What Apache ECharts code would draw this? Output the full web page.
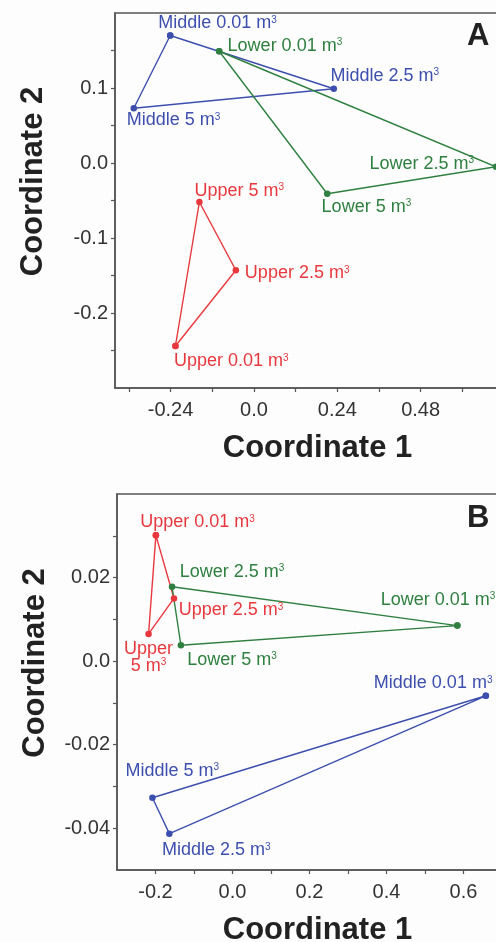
<!DOCTYPE html>
<html>
<head>
<meta charset="utf-8">
<script src="https://cdn.jsdelivr.net/npm/echarts@6/dist/echarts.min.js"></script>
<style>
html,body{margin:0;padding:0;background:#fdfdfd;}
#chart{width:496px;height:942px;}
</style>
</head>
<body>
<div id="chart"></div>
<script>
// ---------- data ----------
const volumes = ['0.01', '2.5', '5'];
const sites = ['Upper', 'Middle', 'Lower'];

// Panel A (order of points: 0.01, 2.5, 5 m3)
const panelA_upper  = [[-0.226, -0.244], [-0.052, -0.143], [-0.157, -0.052]];
const panelA_middle = [[-0.241, 0.170], [0.230, 0.099], [-0.346, 0.073]];
const panelA_lower  = [[-0.100, 0.149], [0.697, -0.005], [0.211, -0.041]];

// Panel B
const panelB_upper  = [[-0.199, 0.0301], [-0.152, 0.0150], [-0.218, 0.0065]];
const panelB_middle = [[0.658, -0.0083], [-0.164, -0.0413], [-0.208, -0.0327]];
const panelB_lower  = [[0.584, 0.0085], [-0.157, 0.0178], [-0.134, 0.0038]];

// Axis ticks / labels
const xTicksA  = [-0.36, -0.24, -0.12, 0, 0.12, 0.24, 0.36, 0.48, 0.6];
const xLabelsA = [-0.24, 0, 0.24, 0.48];
const xLabelTextA = ['-0.24', '0.0', '0.24', '0.48'];
const yTicksA  = [-0.25, -0.2, -0.15, -0.1, -0.05, 0, 0.05, 0.1, 0.15];
const yLabelsA = [-0.2, -0.1, 0, 0.1];
const yLabelTextA = ['-0.2', '-0.1', '0.0', '0.1'];

const xTicksB  = [-0.2, -0.1, 0, 0.1, 0.2, 0.3, 0.4, 0.5, 0.6];
const xLabelsB = [-0.2, 0, 0.2, 0.4, 0.6];
const xLabelTextB = ['-0.2', '0.0', '0.2', '0.4', '0.6'];
const yTicksB  = [-0.04, -0.03, -0.02, -0.01, 0, 0.01, 0.02, 0.03];
const yLabelsB = [-0.04, -0.02, 0, 0.02];
const yLabelTextB = ['-0.04', '-0.02', '0.0', '0.02'];

// ---------- styling ----------
const FONT = '"Liberation Sans", Arial, sans-serif';
const colors = { Upper: '#e8383d', Middle: '#3d4fae', Lower: '#2f8040' };
const axisColor = '#555';
// label placement per point: [dx, dy, align, twoLine]
const labelPos = {
  A: {
    Upper:  [[-1.4, 15.3], [9, 3], [-5, -11.3]],
    Middle: [[-12, -12], [-3.3, -13], [-7, 12]],
    Lower:  [[8.4, -5.4], [-22, -2.7, 'right'], [-5.6, 13.4]]
  },
  B: {
    Upper:  [[-15.6, -13], [4.7, 12], [0, 23.5, 'center', true]],
    Middle: [[-112, -12.4], [-7.4, 16.7], [-27, -26.6]],
    Lower:  [[-76.6, -25.4], [7.7, -15], [6.4, 15]]
  }
};

function lookupFormatter(vals, texts) {
  return function (v) {
    for (let i = 0; i < vals.length; i++) if (Math.abs(vals[i] - v) < 1e-9) return texts[i];
    return '';
  };
}

function makeSeries(panel, site, pts, axisIdx) {
  const color = colors[site];
  const pos = labelPos[panel][site];
  const data = pts.map((p, i) => {
    const lp = pos[i];
    const txt = lp[3]
      ? `{t|${site}}\n{t|${volumes[i]} m}{s|3}`
      : `{t|${site} ${volumes[i]} m}{s|3}`;
    return {
      value: p,
      label: {
        show: true, position: 'inside',
        align: lp[2] || 'left', verticalAlign: 'middle',
        offset: [lp[0], lp[1]],
        formatter: txt
      }
    };
  });
  data.push({ value: pts[0], label: { show: false } });
  return {
    type: 'line', xAxisIndex: axisIdx, yAxisIndex: axisIdx,
    data: data, symbol: 'circle', symbolSize: 6.5,
    lineStyle: { color: color, width: 1.4 },
    itemStyle: { color: color },
    label: {
      color: color,
      rich: {
        t: { fontSize: 18, fontFamily: FONT, color: color, lineHeight: 17 },
        s: { fontSize: 10, fontFamily: FONT, color: color, verticalAlign: 'top', lineHeight: 10 }
      }
    },
    emphasis: { disabled: true },
    clip: false
  };
}

function xAxisCfg(gridIndex, min, max, ticks, labels, texts) {
  return {
    type: 'value', gridIndex: gridIndex, min: min, max: max,
    splitLine: { show: false },
    axisLine: { show: true, onZero: false, lineStyle: { color: axisColor, width: 1.5 } },
    axisTick: { show: true, length: 4, inside: false, customValues: ticks, lineStyle: { color: axisColor, width: 1.2 } },
    axisLabel: { customValues: labels, formatter: lookupFormatter(labels, texts), fontSize: 20, fontFamily: FONT, color: '#333', margin: 12 },
    name: 'Coordinate 1', nameLocation: 'middle', nameGap: 45,
    nameTextStyle: { fontSize: 31, fontWeight: 'bold', fontFamily: FONT, color: '#222', padding: [0, 0, 0, 16] }
  };
}
function yAxisCfg(gridIndex, min, max, ticks, labels, texts) {
  return {
    type: 'value', gridIndex: gridIndex, min: min, max: max,
    splitLine: { show: false },
    axisLine: { show: true, onZero: false, lineStyle: { color: axisColor, width: 1.5 } },
    axisTick: { show: true, length: 4, inside: false, customValues: ticks, lineStyle: { color: axisColor, width: 1.2 } },
    axisLabel: { customValues: labels, formatter: lookupFormatter(labels, texts), fontSize: 20, fontFamily: FONT, color: '#333', margin: 7 },
    name: 'Coordinate 2', nameLocation: 'middle', nameGap: 66, nameRotate: 90,
    nameTextStyle: { fontSize: 31, fontWeight: 'bold', fontFamily: FONT, color: '#222', padding: [0, 0, 0, 38] }
  };
}

const chart = echarts.init(document.getElementById('chart'), null, { renderer: 'canvas' });
chart.setOption({
  backgroundColor: '#fdfdfd',
  animation: false,
  grid: [
    { left: 115, top: 13, right: -8, bottom: 554, containLabel: false, outerBoundsMode: 'none', show: true, borderColor: axisColor, borderWidth: 1.5, backgroundColor: 'transparent' },
    { left: 117, top: 494, right: -6, bottom: 72, containLabel: false, outerBoundsMode: 'none', show: true, borderColor: axisColor, borderWidth: 1.5, backgroundColor: 'transparent' }
  ],
  xAxis: [
    xAxisCfg(0, -0.4, 0.72, xTicksA, xLabelsA, xLabelTextA),
    xAxisCfg(1, -0.3, 0.7, xTicksB, xLabelsB, xLabelTextB)
  ],
  yAxis: [
    yAxisCfg(0, -0.3, 0.2, yTicksA, yLabelsA, yLabelTextA),
    yAxisCfg(1, -0.05, 0.04, yTicksB, yLabelsB, yLabelTextB)
  ],
  graphic: [
    { type: 'text', left: 467, top: 21, style: { text: 'A', font: 'bold 31px ' + FONT, fill: '#222' } },
    { type: 'text', left: 467, top: 503, style: { text: 'B', font: 'bold 31px ' + FONT, fill: '#222' } }
  ],
  series: [
    makeSeries('A', 'Middle', panelA_middle, 0),
    makeSeries('A', 'Lower', panelA_lower, 0),
    makeSeries('A', 'Upper', panelA_upper, 0),
    makeSeries('B', 'Upper', panelB_upper, 1),
    makeSeries('B', 'Lower', panelB_lower, 1),
    makeSeries('B', 'Middle', panelB_middle, 1)
  ]
});
</script>
</body>
</html>
